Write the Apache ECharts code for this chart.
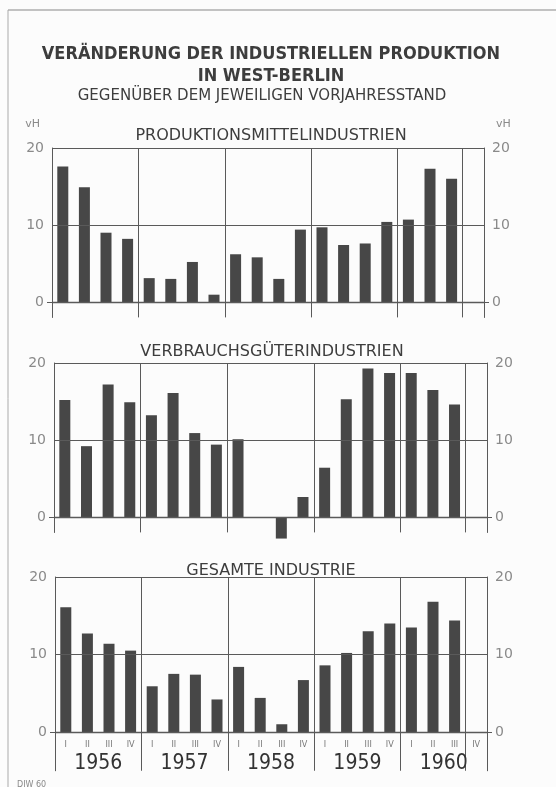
<!DOCTYPE html>
<html>
<head>
<meta charset="utf-8">
<script src="https://cdn.jsdelivr.net/npm/echarts@6/dist/echarts.min.js"></script>
<style>
html,body{margin:0;padding:0;background:#fcfcfc;}
#chart{width:556px;height:787px;}
</style>
</head>
<body>
<div id="chart"></div>
<script>
const years = ['1956', '1957', '1958', '1959', '1960'];
const quarters = ['I', 'II', 'III', 'IV'];
const categories = [];
years.forEach(y => quarters.forEach(q => categories.push(y + '-' + q)));

const yTicks = [0, 10, 20];

const panelTitles = ['PRODUKTIONSMITTELINDUSTRIEN', 'VERBRAUCHSGÜTERINDUSTRIEN', 'GESAMTE INDUSTRIE'];

const produktionsmittel = [17.6, 14.9, 9.0, 8.2, 3.1, 3.0, 5.2, 0.95, 6.2, 5.8, 3.0, 9.4, 9.7, 7.4, 7.6, 10.4, 10.7, 17.3, 16.0, null];
const verbrauchsgueter = [15.2, 9.2, 17.2, 14.9, 13.2, 16.1, 10.9, 9.4, 10.1, 0, -2.8, 2.6, 6.4, 15.3, 19.3, 18.7, 18.7, 16.5, 14.6, null];
const gesamt = [16.1, 12.7, 11.4, 10.5, 5.9, 7.5, 7.4, 4.2, 8.4, 4.4, 1.0, 6.7, 8.6, 10.2, 13.0, 14.0, 13.5, 16.8, 14.4, null];

const seriesData = [produktionsmittel, verbrauchsgueter, gesamt];

const LINE = '#5a5a5a';
const BAR = '#474747';
const LABEL = '#8a8a8a';
const TEXT = '#3d3d3d';
const FONT = 'DejaVu Sans Condensed';

const grids = [
  {left: 52, right: 72, top: 148, height: 169.4},
  {left: 54, right: 69, top: 363, height: 169.4},
  {left: 55, right: 69, top: 577, height: 193.75}
];
const mins = [-2, -2, -5];

const xAxes = [];
const yAxesLeft = [];
const yAxesRight = [];
const series = [];

for (let i = 0; i < 3; i++) {
  xAxes.push({
    type: 'category', gridIndex: i, data: categories, position: 'bottom',
    axisLine: {show: false, onZero: false},
    axisTick: {show: false},
    axisLabel: {
      show: i === 2, interval: 0, inside: true, margin: 22, fontSize: 9, color: '#777', fontFamily: FONT,
      formatter: v => v.split('-')[1]
    },
    splitLine: {show: true, interval: 3, lineStyle: {color: LINE, width: 1}}
  });
  const yBase = (pos) => ({
    type: 'value', gridIndex: i, min: mins[i], max: 20, position: pos,
    axisLine: {show: true, lineStyle: {color: LINE, width: 1}},
    axisTick: {show: true, customValues: [0], length: 5, inside: false, lineStyle: {color: LINE}},
    axisLabel: {customValues: yTicks, color: LABEL, fontSize: 14, margin: 8, fontFamily: 'DejaVu Sans'},
    splitLine: {show: false}
  });
  const yl = yBase('left');
  const yr = yBase('right');
  if (i === 0) {
    yl.name = 'vH'; yl.nameLocation = 'end'; yl.nameGap = 18;
    yl.nameTextStyle = {color: LABEL, fontSize: 11, align: 'right', padding: [0, 12, 0, 0], fontFamily: 'DejaVu Sans'};
    yr.name = 'vH'; yr.nameLocation = 'end'; yr.nameGap = 18;
    yr.nameTextStyle = {color: LABEL, fontSize: 11, align: 'left', padding: [0, 0, 0, 12], fontFamily: 'DejaVu Sans'};
  }
  yAxesLeft.push(yl);
  yAxesRight.push(yr);
  series.push({
    type: 'bar', xAxisIndex: i, yAxisIndex: i, data: seriesData[i],
    barWidth: 11, clip: false,
    itemStyle: {color: BAR},
    markLine: {
      silent: true, symbol: 'none', label: {show: false},
      lineStyle: {color: LINE, width: 1.1, type: 'solid'},
      data: [{yAxis: 0, lineStyle: {width: 1.3}}, {yAxis: 10}, {yAxis: 20}]
    }
  });
}

xAxes.push({
  type: 'category', gridIndex: 2, data: years, position: 'bottom',
  axisLine: {show: false, onZero: false}, axisTick: {show: false}, splitLine: {show: false},
  axisLabel: {inside: true, margin: -3, fontSize: 21, color: '#333', verticalAlign: 'bottom', fontFamily: FONT}
});

const option = {
  backgroundColor: '#fcfcfc',
  animation: false,
  title: [
    {text: 'VERÄNDERUNG DER INDUSTRIELLEN PRODUKTION\nIN WEST-BERLIN', left: 266, top: 38, textAlign: 'center',
      textStyle: {fontSize: 18, fontWeight: 'bold', lineHeight: 22, color: TEXT, fontFamily: FONT}},
    {text: 'GEGENÜBER DEM JEWEILIGEN VORJAHRESSTAND', left: 257, top: 84, textAlign: 'center',
      textStyle: {fontSize: 15, fontWeight: 'normal', color: TEXT, fontFamily: 'DejaVu Sans'}},
    {text: panelTitles[0], left: 266, top: 123, textAlign: 'center',
      textStyle: {fontSize: 16, fontWeight: 'normal', color: TEXT, fontFamily: 'DejaVu Sans'}},
    {text: panelTitles[1], left: 267, top: 339, textAlign: 'center',
      textStyle: {fontSize: 16, fontWeight: 'normal', color: TEXT, fontFamily: 'DejaVu Sans'}},
    {text: panelTitles[2], left: 266, top: 558, textAlign: 'center',
      textStyle: {fontSize: 16, fontWeight: 'normal', color: TEXT, fontFamily: 'DejaVu Sans'}},
    {text: 'DIW 60', left: 12, top: 776,
      textStyle: {fontSize: 8, fontWeight: 'normal', color: '#888', fontFamily: 'DejaVu Sans'}}
  ],
  grid: grids,
  xAxis: xAxes,
  yAxis: yAxesLeft.concat(yAxesRight),
  series: series,
  graphic: [
    {type: 'line', shape: {x1: 8, y1: 10, x2: 556, y2: 10}, style: {stroke: '#888', lineWidth: 1}, silent: true},
    {type: 'line', shape: {x1: 8, y1: 10, x2: 8, y2: 787}, style: {stroke: '#aaa', lineWidth: 1}, silent: true}
  ]
};

const chart = echarts.init(document.getElementById('chart'), null, {renderer: 'canvas'});
chart.setOption(option);
</script>
</body>
</html>
